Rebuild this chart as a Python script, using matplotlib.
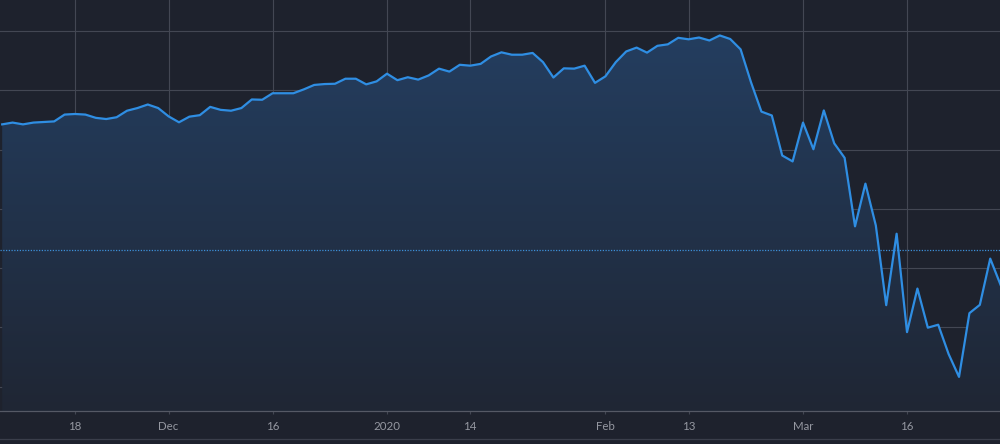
import matplotlib
matplotlib.use("Agg")
import matplotlib.pyplot as plt
import numpy as np
from matplotlib.lines import Line2D

# ---- data (S&P-like index closes, trading days Nov 7 2019 .. Mar 27 2020) ----
closes = [
    3085, 3091, 3085, 3091, 3093, 3095, 3118, 3120, 3118, 3107,
    3103, 3109, 3131, 3140, 3152, 3140, 3112, 3092, 3111, 3116,
    3144, 3134, 3131, 3140, 3169, 3168, 3190, 3190, 3190, 3203,
    3218, 3221, 3222, 3239, 3239, 3220, 3230, 3256, 3234, 3244,
    3236, 3250, 3273, 3263, 3286, 3283, 3289, 3314, 3328, 3320,
    3320, 3326, 3295, 3243, 3274, 3273, 3283, 3225, 3247, 3295,
    3331, 3344, 3327, 3350, 3355, 3377, 3372, 3378, 3368, 3385,
    3373, 3338, 3227, 3128, 3115, 2980, 2960, 3091, 3001, 3132,
    3021, 2972, 2741, 2885, 2744, 2475, 2716, 2384, 2531, 2399,
    2409, 2310, 2233, 2448, 2476, 2632, 2543,
]
tick_index = [7, 16, 26, 37, 45, 58, 66, 77, 87]
tick_labels = ["18", "Dec", "16", "2020", "14", "Feb", "13", "Mar", "16"]
grid_levels = [2200, 2400, 2600, 2800, 3000, 3200, 3400]
reference_level = 2662

# ---- style ----
BG = "#1e222d"
GRID = "#434753"
AXLINE = "#555965"
LINE = "#2f8ee3"
TEXT = "#9598a1"

W, H = 1000, 444
fig = plt.figure(figsize=(W / 100, H / 100), dpi=100, facecolor=BG)
ax = fig.add_axes([0, 33 / H, 1, 411 / H], facecolor=BG)

x = np.arange(len(closes))
y = np.array(closes, dtype=float)

xmin, xmax = -0.21, 95.94
ymin, ymax = 2117.9, 3504.6
ax.set_xlim(xmin, xmax)
ax.set_ylim(ymin, ymax)

# gradient fill under line
poly = ax.fill_between(x, y, ymin, color="none", lw=0)
top_c = np.array([36, 62, 96]) / 255
bot_c = np.array([31, 38, 52]) / 255
n = 256
t = np.linspace(0, 1, n)[:, None]
grad = (top_c[None, :] * (1 - t) + bot_c[None, :] * t)[:, None, :]
im = ax.imshow(grad, extent=[xmin, xmax, ymin, 3400], aspect="auto",
               origin="upper", zorder=1)
paths = poly.get_paths()
im.set_clip_path(paths[0], transform=ax.transData)

# grid
for g in grid_levels:
    ax.axhline(g, color=GRID, lw=0.8, zorder=0.5)
for ti in tick_index:
    ax.axvline(ti, color=GRID, lw=0.8, zorder=0.5)

# reference dotted line
ax.axhline(reference_level, color="#3d8fd8", lw=0.9, ls=(0, (1, 1.2)), zorder=2)

# main line
ax.plot(x, y, color=LINE, lw=1.6, zorder=3, solid_joinstyle="round")

# axes styling
for side in ["top", "left", "right"]:
    ax.spines[side].set_visible(False)
ax.spines["bottom"].set_color(AXLINE)
ax.spines["bottom"].set_linewidth(0.9)
ax.set_yticks(grid_levels)
ax.set_yticklabels([])
ax.tick_params(axis="y", length=0)
ax.set_xticks(tick_index)
ax.set_xticklabels(tick_labels, fontsize=8.3, color=TEXT, family="Lato")
ax.tick_params(axis="x", length=2.5, width=0.8, color=GRID, pad=5)

# bottom separator line
fig.add_artist(Line2D([0, 1], [(H - 439) / H] * 2, color="#3a3e4a", lw=0.9))

fig.savefig("out.png", dpi=100, facecolor=BG)
